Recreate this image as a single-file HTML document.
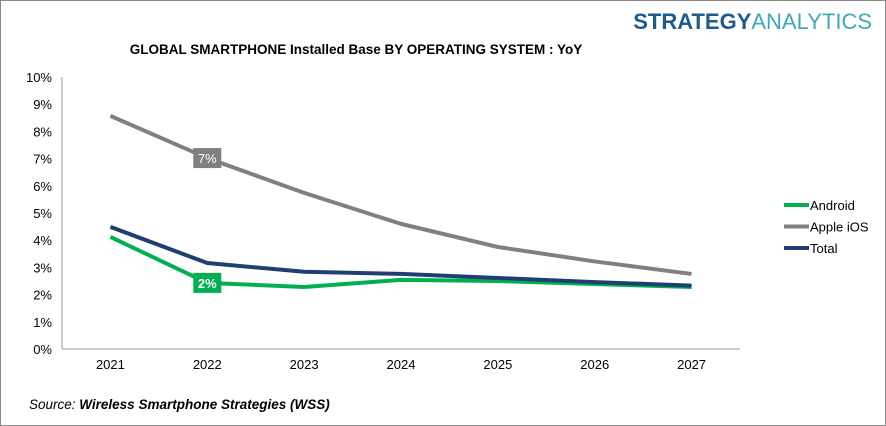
<!DOCTYPE html>
<html><head><meta charset="utf-8"><style>
html,body{margin:0;padding:0;background:#fff}
#wrap{position:relative;width:884px;height:424px;border:1px solid #8a8a8a;overflow:hidden;font-family:"Liberation Sans",sans-serif}
</style></head><body>
<div id="wrap">
<svg id="chart" width="884" height="424"></svg>
</div>
<script>
const categories=["2021","2022","2023","2024","2025","2026","2027"];
const android=[4.12,2.43,2.28,2.54,2.5,2.39,2.28];
const ios=[8.57,7.02,5.74,4.6,3.75,3.22,2.76];
const total=[4.49,3.16,2.84,2.76,2.61,2.46,2.33];
const yTicks=[0,1,2,3,4,5,6,7,8,9,10];
const seriesNames=["Android","Apple iOS","Total"];
const NS="http://www.w3.org/2000/svg";
const svg=document.getElementById('chart');
const x0=61,x1=739,yBase=348,pxPer=27.2;
const xs=i=>x0+(i+0.5)*(x1-x0)/categories.length;
const ys=v=>yBase-v*pxPer;
function mk(t,a,txt){const e=document.createElementNS(NS,t);for(const k in a)e.setAttribute(k,a[k]);if(txt!==undefined)e.textContent=txt;svg.appendChild(e);return e;}
let e;
e=mk('text',{x:871,y:28,'text-anchor':'end','font-size':22,'font-weight':'bold',fill:'#1f5a8c'});


e.innerHTML='STRATEGY<tspan fill="#3fa9b5" font-weight="normal">ANALYTICS</tspan>';
e=mk('text',{x:355,y:53,'text-anchor':'middle','font-size':13.5,'font-weight':'bold',fill:'#000'},'GLOBAL SMARTPHONE Installed  Base BY OPERATING SYSTEM : YoY');


e=mk('line',{x1:x0,y1:76,x2:x0,y2:yBase,stroke:'#999','stroke-width':1});


e=mk('line',{x1:x0,y1:yBase,x2:x1,y2:yBase,stroke:'#999','stroke-width':1});


yTicks.forEach(v=>{const t=mk('text',{x:51,y:ys(v)+5,'text-anchor':'end','font-size':13,fill:'#000'},v+'%');

});
categories.forEach((c,i)=>{const t=mk('text',{x:xs(i),y:368,'text-anchor':'middle','font-size':13,fill:'#000'},c);

});
const colors=['#00b050','#808080','#1f3f73'];
const data=[android,ios,total];
[1,0,2].forEach(si=>{const p=mk('polyline',{points:data[si].map((v,i)=>xs(i)+','+ys(v)).join(' '),fill:'none',stroke:colors[si],'stroke-width':4,'stroke-linejoin':'round'});

});
[[1,1],[0,1]].forEach(([si,i])=>{const cx=xs(i),cy=ys(data[si][i]);
const r=mk('rect',{x:cx-14,y:cy-10,width:28,height:20,fill:colors[si]});


const t=mk('text',{x:cx,y:cy+5,'text-anchor':'middle','font-size':13,'font-weight':si==0?'bold':'normal',fill:'#fff'},Math.round(data[si][i])+'%');

});
seriesNames.forEach((n,k)=>{const y=204+k*21.5;
const l=mk('line',{x1:783,y1:y,x2:808,y2:y,stroke:colors[k],'stroke-width':4});


const t=mk('text',{x:809,y:y+5,'font-size':13,fill:'#000'},n);

});
e=mk('text',{x:28,y:408,'font-size':13.5,'font-style':'italic',fill:'#000'});


e.innerHTML='Source: <tspan font-weight="bold">Wireless Smartphone Strategies (WSS)</tspan>';
</script>
</body></html>
